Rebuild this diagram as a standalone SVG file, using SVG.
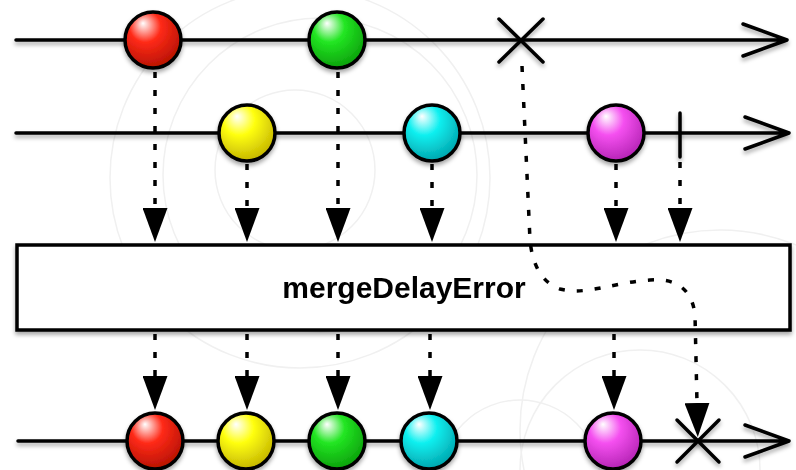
<svg xmlns="http://www.w3.org/2000/svg" width="796" height="470" viewBox="0 0 796 470">
  <defs>
    <style>
      .line { fill: none; stroke: #000; stroke-width: 3.5; stroke-linecap: round; stroke-linejoin: round; }
      .dot { fill: none; stroke: #000; stroke-width: 3.5; stroke-dasharray: 6 12; }
      .marble { stroke: #000; stroke-width: 3.5; }
      .ring { fill: none; stroke: #f0f0f0; stroke-width: 1.5; }
      .label { font-family: "Liberation Sans", Arial, sans-serif; font-weight: bold; font-size: 30px; fill: #000; }
    </style>
    <filter id="shadow" filterUnits="userSpaceOnUse" x="0" y="0" width="796" height="470">
      <feDropShadow dx="0" dy="3" stdDeviation="2" flood-color="#000" flood-opacity="0.35"/>
    </filter>
    <marker id="tri" viewBox="0 0 34 25" refX="0" refY="12.5" markerWidth="34" markerHeight="25" markerUnits="userSpaceOnUse" orient="auto">
      <path d="M0,0 L34,12.5 L0,25 Z" fill="#000"/>
    </marker>
    <radialGradient id="gRed" cx="0.42" cy="0.35" r="0.7" fx="0.32" fy="0.2">
      <stop offset="0" stop-color="#fff"/>
      <stop offset="0.4" stop-color="#ff2a18"/>
      <stop offset="1" stop-color="#b01000"/>
    </radialGradient>
    <radialGradient id="gGreen" cx="0.42" cy="0.35" r="0.7" fx="0.32" fy="0.2">
      <stop offset="0" stop-color="#fff"/>
      <stop offset="0.4" stop-color="#22e622"/>
      <stop offset="1" stop-color="#0a9a0a"/>
    </radialGradient>
    <radialGradient id="gYellow" cx="0.42" cy="0.35" r="0.7" fx="0.32" fy="0.2">
      <stop offset="0" stop-color="#fff"/>
      <stop offset="0.4" stop-color="#ffff10"/>
      <stop offset="1" stop-color="#c0b000"/>
    </radialGradient>
    <radialGradient id="gCyan" cx="0.42" cy="0.35" r="0.7" fx="0.32" fy="0.2">
      <stop offset="0" stop-color="#fff"/>
      <stop offset="0.4" stop-color="#10f0f0"/>
      <stop offset="1" stop-color="#009fa8"/>
    </radialGradient>
    <radialGradient id="gMagenta" cx="0.42" cy="0.35" r="0.7" fx="0.32" fy="0.2">
      <stop offset="0" stop-color="#fff"/>
      <stop offset="0.4" stop-color="#f550f0"/>
      <stop offset="1" stop-color="#b020b0"/>
    </radialGradient>
  </defs>

  <rect width="796" height="470" fill="#fff"/>

  <!-- faint decorative rings in the background -->
  <g id="backdrop">
    <circle class="ring" cx="295" cy="170" r="80"/>
    <circle class="ring" cx="320" cy="175" r="157"/>
    <circle class="ring" cx="300" cy="178" r="190"/>
    <circle class="ring" cx="640" cy="470" r="120"/>
    <circle class="ring" cx="720" cy="430" r="200"/>
    <circle class="ring" cx="520" cy="480" r="80"/>
  </g>

  <!-- timelines -->
  <g id="timelines" filter="url(#shadow)">
    <path class="line" d="M16,40 H786 M743,24 L787,40 L743,56"/>
    <path class="line" d="M16,133 H788 M745,117 L789,133 L745,149"/>
    <path class="line" d="M18,441 H788 M745,425 L789,441 L745,457"/>
  </g>

  <!-- operator box -->
  <g id="operator" filter="url(#shadow)">
    <rect x="17" y="245" width="773" height="85" fill="#fff" stroke="#000" stroke-width="3.5"/>
    <text class="label" x="404" y="298" text-anchor="middle">mergeDelayError</text>
  </g>

  <!-- connectors -->
  <g id="connectors">
    <path class="dot" d="M155,72 V208" marker-end="url(#tri)"/>
    <path class="dot" d="M338,72 V208" marker-end="url(#tri)"/>
    <path class="dot" d="M247,164 V208" marker-end="url(#tri)"/>
    <path class="dot" d="M432,164 V208" marker-end="url(#tri)"/>
    <path class="dot" d="M616,164 V208" marker-end="url(#tri)"/>
    <path class="dot" d="M680,162 V208" marker-end="url(#tri)"/>
    <path class="dot" d="M155,334 V376" marker-end="url(#tri)"/>
    <path class="dot" d="M247,334 V376" marker-end="url(#tri)"/>
    <path class="dot" d="M338,334 V376" marker-end="url(#tri)"/>
    <path class="dot" d="M430,334 V376" marker-end="url(#tri)"/>
    <path class="dot" d="M614,334 V376" marker-end="url(#tri)"/>
    <path class="dot" d="M522,66 L530,240 C532,262 540,282 560,289 C585,296 615,282 650,280 C675,278 692,288 695,315 L697,403" marker-end="url(#tri)"/>
  </g>

  <!-- first source -->
  <g id="src1-red" filter="url(#shadow)"><circle class="marble" cx="153" cy="40" r="28" fill="url(#gRed)"/></g>
  <g id="src1-green" filter="url(#shadow)"><circle class="marble" cx="337" cy="40" r="28" fill="url(#gGreen)"/></g>
  <g id="src1-error" filter="url(#shadow)"><path class="line" d="M499,19 L543,62 M499,62 L543,19"/></g>

  <!-- second source -->
  <g id="src2-yellow" filter="url(#shadow)"><circle class="marble" cx="247" cy="133" r="28" fill="url(#gYellow)"/></g>
  <g id="src2-cyan" filter="url(#shadow)"><circle class="marble" cx="432" cy="133" r="28" fill="url(#gCyan)"/></g>
  <g id="src2-magenta" filter="url(#shadow)"><circle class="marble" cx="616" cy="133" r="28" fill="url(#gMagenta)"/></g>
  <g id="src2-complete" filter="url(#shadow)"><path class="line" d="M680,113 V157"/></g>

  <!-- merged output -->
  <g id="out-red" filter="url(#shadow)"><circle class="marble" cx="155" cy="441" r="28" fill="url(#gRed)"/></g>
  <g id="out-yellow" filter="url(#shadow)"><circle class="marble" cx="246" cy="441" r="28" fill="url(#gYellow)"/></g>
  <g id="out-green" filter="url(#shadow)"><circle class="marble" cx="337" cy="441" r="28" fill="url(#gGreen)"/></g>
  <g id="out-cyan" filter="url(#shadow)"><circle class="marble" cx="429" cy="441" r="28" fill="url(#gCyan)"/></g>
  <g id="out-magenta" filter="url(#shadow)"><circle class="marble" cx="613" cy="441" r="28" fill="url(#gMagenta)"/></g>
  <g id="out-error" filter="url(#shadow)"><path class="line" d="M677,420 L719,462 M677,462 L719,420"/></g>
</svg>
